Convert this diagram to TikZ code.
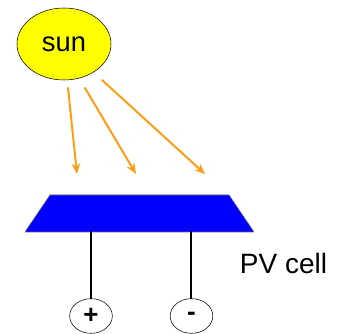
\documentclass[tikz,border=0pt]{standalone}
\usepackage{fontspec}
\setmainfont{Liberation Sans}
\usepackage{tikz}
\usetikzlibrary{arrows.meta, positioning, shapes, calc, shapes.geometric}
\definecolor{SUNyellow}{RGB}{255, 255, 0}
\definecolor{RAYorange}{RGB}{255, 158, 20}
\definecolor{CELLblue}{RGB}{0, 0, 255}
\tikzset{every path/.style={line cap=round, line join=round}}

\begin{document}
\begin{tikzpicture}[
    x=0.75pt, y=-0.75pt,
    sunbody/.style={
        ellipse,
        draw,
        thin,
        fill=SUNyellow,
        minimum width=70.5pt,
        minimum height=54pt,
        font=\fontsize{20.5}{23}\selectfont
    },
    ray/.style={
        -{Stealth[length=8pt, width=6.5pt]},
        RAYorange,
        line width=1.5pt
    },
    panel/.style={
        draw=black!60,
        thin,
        fill=CELLblue
    },
    terminal/.style={
        ellipse,
        draw,
        thin,
        minimum width=32pt,
        minimum height=26pt,
        inner sep=0pt,
        font=\fontsize{19.5}{22}\selectfont\bfseries
    },
    wire/.style={
        line width=1.5pt
    },
    label/.style={
        font=\fontsize{21}{24}\selectfont
    }
]
\useasboundingbox (0,0) rectangle (337,334);

\node[sunbody] (sun) at (64,44) {sun};

% the cell
\coordinate (cellbl) at (25,232);
\coordinate (cellbr) at (254,232);
\coordinate (celltr) at (229,195);
\coordinate (celltl) at (50,195);
\draw[panel] (cellbl) -- (cellbr) -- (celltr) -- (celltl) -- cycle;

\node[terminal] (plus) at (91,316) {+};
\node[terminal] (minus) at (191.5,316) {-};

\node[label] (pv) at (283.5,263) {PV cell};

% light rays
\coordinate (s1) at (68,88);
\coordinate (s2) at (85,88);
\coordinate (s3) at (102,80);
\coordinate (e1) at (77,174);
\coordinate (e2) at (136,174);
\coordinate (e3) at (205,174);
\draw[ray] (s1) -- (e1);
\draw[ray] (s2) -- (e2);
\draw[ray] (s3) -- (e3);

% leads
\draw[wire] (plus.north) -- (plus.north |- cellbl);
\draw[wire] (minus.north) -- (minus.north |- cellbl);

\end{tikzpicture}
\end{document}
